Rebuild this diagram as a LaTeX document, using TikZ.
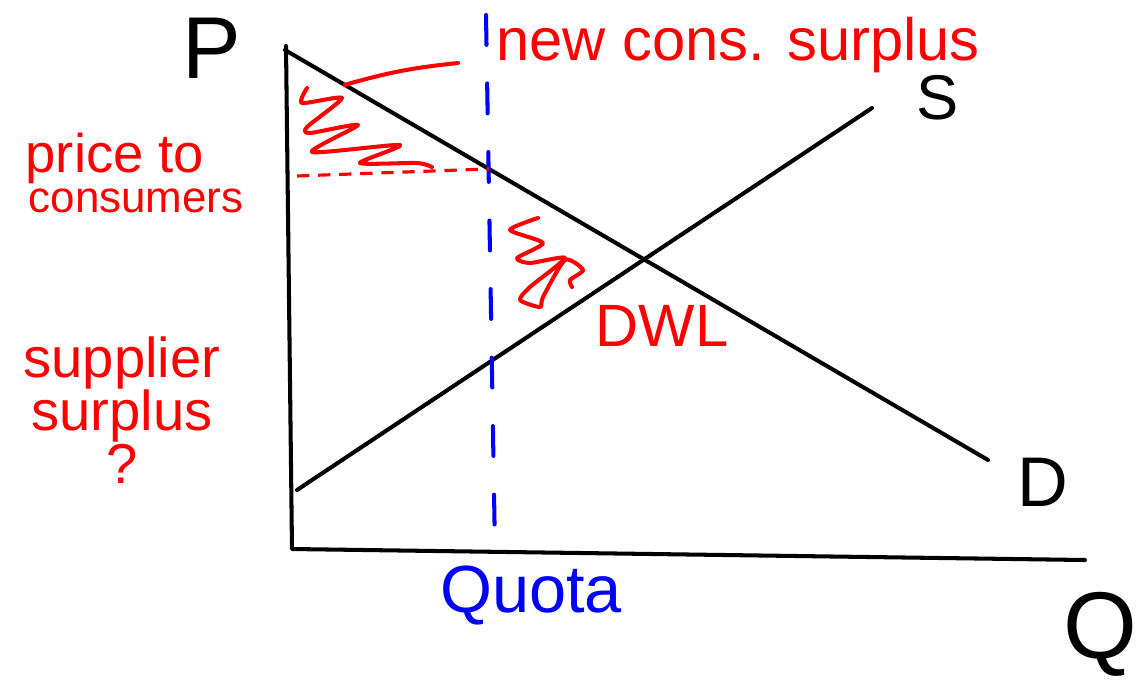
\documentclass[tikz,border=0pt]{standalone}
\usepackage{fontspec}
\setmainfont{Liberation Sans}
\usetikzlibrary{positioning, calc}
\definecolor{PenRed}{RGB}{255,0,0}
\definecolor{PenBlue}{RGB}{0,0,255}

\begin{document}
\begin{tikzpicture}[x=0.02cm, y=-0.02cm,
  curve/.style={black, line width=2.3pt, line cap=round, line join=round},
  quotaline/.style={PenBlue, line width=2.3pt, line cap=round,
                    dash pattern=on 17pt off 22pt},
  priceline/.style={PenRed, line width=1.8pt, dash pattern=on 7pt off 5pt},
  scribble/.style={PenRed, line width=2.3pt, line cap=round, line join=round},
  axislbl/.style={black, inner sep=0pt},
  note/.style={PenRed, inner sep=0pt, align=center},
]
\useasboundingbox (0,0) rectangle (1141,687);

% Axes and curves
\coordinate (ytop)   at (286,46);
\coordinate (origin) at (292,549);
\coordinate (xend)   at (1085,560);
\coordinate (dtop)   at (285,50);
\coordinate (dbot)   at (988,460);
\coordinate (sbot)   at (297,490);
\coordinate (stop)   at (872,108);
\draw[curve] (ytop) -- (origin) -- (xend);
\draw[curve] (dtop) -- (dbot);
\draw[curve] (sbot) -- (stop);

% Quota and price to consumers
\coordinate (qtop) at (486,15);
\coordinate (qbot) at (495,552);
\draw[quotaline] (qtop) -- (qbot);
\coordinate (pcons)  at (297,176);
\coordinate (pquota) at ($(dtop)!0.29!(dbot)$);
\draw[priceline] (pcons) -- (pquota);

% Shaded areas
\draw[scribble] plot[smooth, tension=0.4] coordinates {
  (307,88) (302,103) (342,98) (307,127) (310,133) (358,125)
  (312,152) (400,145) (360,163) (417,163) (432,167)};
\draw[scribble] plot[smooth, tension=0.4] coordinates {
  (538,218) (510,230) (543,243) (517,258) (530,263) (565,258)
  (530,287) (520,300) (540,307) (543,297) (565,260) (583,270)
  (570,280) (572,287)};
\coordinate (ptr) at (458,63);
\draw[scribble] ($(dtop)!0.085!(dbot)$) to[bend left=5] (ptr);

% Labels
\node[axislbl, font=\fontsize{50}{50}\selectfont] (lblP) at (212,48) {P};
\node[axislbl, font=\fontsize{36}{36}\selectfont] (lblS) at (938,98) {S};
\node[axislbl, font=\fontsize{40}{40}\selectfont] (lblD) at (1043,482) {D};
\node[axislbl, font=\fontsize{54}{54}\selectfont] (lblQ) at (1100,634) {Q};
\node[PenBlue, inner sep=0pt, font=\fontsize{38}{38}\selectfont] (lblQuota)
  at (531,595) {Quota};
\node[note, font=\fontsize{34}{34}\selectfont] (lblNewCS) at (738,45)
  {new cons. surplus};
\node[note, font=\fontsize{34}{34}\selectfont] (lblDWL) at (662,326) {DWL};
\node[note, font=\fontsize{31}{31}\selectfont] (lblPrice) at (115,158) {price to};
\node[note, font=\fontsize{25}{25}\selectfont, below=3pt of lblPrice.south,
      xshift=12pt] (lblCons) {consumers};
\node[note, font=\fontsize{32}{30}\selectfont] (lblSupp) at (122,410)
  {supplier\\surplus\\?};
\end{tikzpicture}
\end{document}
